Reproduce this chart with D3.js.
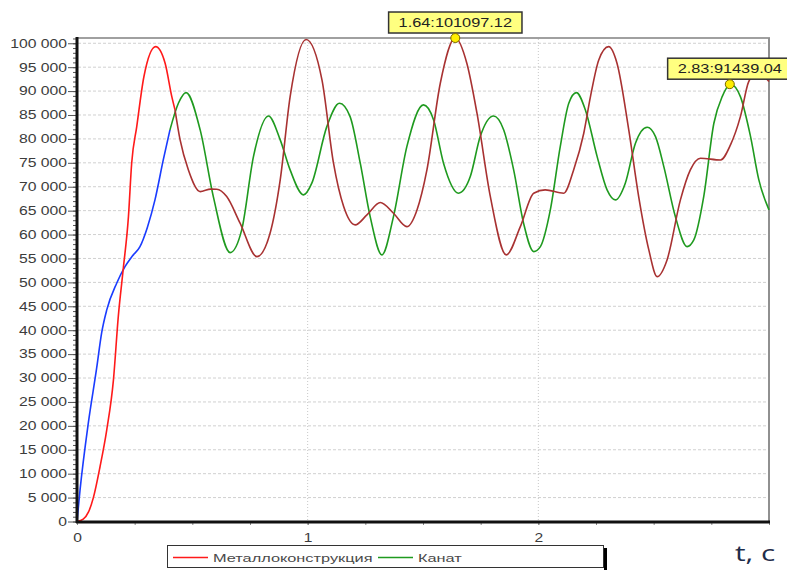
<!DOCTYPE html>
<html>
<head>
<meta charset="utf-8">
<script src="https://cdn.jsdelivr.net/npm/d3@7"></script>
<style>
  body { margin: 0; background: #fff; }
  svg text { font-family: "Liberation Sans", Arial, sans-serif; }
</style>
</head>
<body>
<svg id="chart" width="787" height="570"></svg>
<script>
// t, seconds
const metalT = [0, 0.027, 0.05, 0.071, 0.1, 0.129, 0.158, 0.179, 0.2, 0.223, 0.237, 0.259, 0.29, 0.341,
  0.382, 0.411, 0.425, 0.447, 0.483, 0.534, 0.58, 0.606, 0.649, 0.707, 0.78, 0.837, 0.881, 0.924, 0.993,
  1.062, 1.112, 1.156, 1.206, 1.257, 1.315, 1.372, 1.43, 1.474, 1.517, 1.575, 1.64, 1.69, 1.734, 1.792,
  1.861, 1.922, 1.98, 2.03, 2.11, 2.153, 2.197, 2.226, 2.262, 2.305, 2.341, 2.392, 2.435, 2.479, 2.515,
  2.558, 2.616, 2.659, 2.703, 2.79, 2.833, 2.876, 2.912, 2.95, 3.0]
const metalV = [0, 500, 2000, 5000, 11500, 19170, 29620, 42850, 52600, 63760, 74900, 82570, 93000, 99290,
  95820, 88840, 86060, 79790, 73520, 68980, 69500, 69480, 67940, 62380, 55390, 60280, 71430, 88840, 100800,
  92330, 74920, 65850, 62020, 64110, 66690, 64460, 61660, 65150, 73520, 91640, 101097, 95820, 85370, 67940,
  55750, 61660, 68650, 69340, 68650, 73520, 81190, 88840, 96510, 99290, 95820, 81880, 67940, 56800, 51210,
  54700, 67250, 73520, 75960, 75600, 78740, 84660, 91970, 94000, 92000]

const kanatT = [0, 0.013, 0.049, 0.085, 0.107, 0.129, 0.172, 0.208, 0.24, 0.273, 0.305, 0.338, 0.374, 0.403,
  0.44, 0.473, 0.534, 0.591, 0.664, 0.714, 0.765, 0.83, 0.881, 0.924, 0.982, 1.018, 1.083, 1.138, 1.184,
  1.228, 1.271, 1.322, 1.372, 1.43, 1.502, 1.546, 1.589, 1.654, 1.705, 1.748, 1.806, 1.85, 1.893, 1.936,
  1.98, 2.009, 2.052, 2.095, 2.132, 2.165, 2.204, 2.255, 2.298, 2.334, 2.377, 2.421, 2.472, 2.508, 2.544,
  2.594, 2.645, 2.674, 2.717, 2.761, 2.797, 2.833, 2.876, 2.92, 2.956, 3.0]
const kanatV = [0, 6500, 20570, 32000, 39500, 44250, 49830, 53300, 55500, 57480, 61500, 67250, 75600, 81880,
  87500, 89680, 81880, 67940, 56230, 60970, 76300, 84800, 79790, 73520, 68290, 70740, 82570, 87460, 84660,
  74920, 63760, 55750, 63760, 78380, 87110, 83970, 74920, 68650, 72120, 80480, 84800, 81880, 73520, 62380,
  56440, 57480, 65150, 78380, 87460, 89680, 86060, 76300, 69340, 67250, 70740, 79100, 82440, 80480, 74210,
  63760, 57480, 58880, 67940, 83270, 88840, 91439.04, 88840, 80480, 71430, 65150]

// time where each curve changes colour
const metalSwitch = 0.425
const kanatSwitch = 0.403

const seriesNames = ["Металлоконструкция", "Канат"]
const yTicks = d3.range(0, 100001, 5000)
const xTicks = [0, 1, 2]
const marks = [{t: 1.64, v: 101097.12}, {t: 2.83, v: 91439.04}]

const svg = d3.select("#chart")

const x = d3.scaleLinear().domain([0, 3]).range([77, 769])
const y = d3.scaleLinear().domain([0, 101100]).range([521.5, 38])

const fmt = d3.formatLocale({decimal: ".", thousands: " ", grouping: [3], currency: ["", ""]}).format(",d")

// grid
svg.append("g")
  .selectAll("line")
  .data(yTicks.filter(d => d > 0))
  .join("line")
    .attr("x1", 78).attr("x2", 768)
    .attr("y1", d => y(d)).attr("y2", d => y(d))
    .attr("stroke", "#d0d0d0")
    .attr("stroke-dasharray", "3,2")
svg.append("g")
  .selectAll("line")
  .data([1, 2])
  .join("line")
    .attr("x1", d => x(d)).attr("x2", d => x(d))
    .attr("y1", 39).attr("y2", 521)
    .attr("stroke", "#c8c8c8")
    .attr("stroke-dasharray", "1,2")

// frame top/right
svg.append("line").attr("x1", 77).attr("x2", 770).attr("y1", 38).attr("y2", 38)
  .attr("stroke", "#a0a0a0").attr("stroke-width", 2)
svg.append("line").attr("x1", 769).attr("x2", 769).attr("y1", 38).attr("y2", 522)
  .attr("stroke", "#909090").attr("stroke-width", 2)

// lines
const line = d3.line()
  .x(d => x(d[0]))
  .y(d => y(d[1]))
  .curve(d3.curveMonotoneX)

function drawSeries(ts, vs, sw, c1, c2) {
  const pts = ts.map((t, i) => [t, vs[i]])
  const k = ts.indexOf(sw)
  svg.append("path").datum(pts.slice(0, k + 1))
    .attr("d", line).attr("fill", "none").attr("stroke", c1).attr("stroke-width", 1.6)
  svg.append("path").datum(pts.slice(k))
    .attr("d", line).attr("fill", "none").attr("stroke", c2).attr("stroke-width", 1.6)
}
drawSeries(kanatT, kanatV, kanatSwitch, "#1a3cff", "#1f9a1f")
drawSeries(metalT, metalV, metalSwitch, "#ff1a1a", "#a83232")

// y axis
const yMinor = svg.append("g").attr("transform", "translate(77,0)")
  .call(d3.axisLeft(y).tickValues(d3.range(0, 101001, 1000)).tickSize(4).tickFormat(""))
yMinor.select(".domain").remove()
yMinor.selectAll("line").attr("stroke", "#555")

const yAxis = svg.append("g").attr("transform", "translate(77,0)")
  .call(d3.axisLeft(y).tickValues(yTicks).tickSize(9).tickFormat(fmt))
yAxis.select(".domain").remove()
yAxis.selectAll("line").attr("stroke", "#555")
yAxis.selectAll("text")
  .attr("x", -7.6)
  .attr("transform", "scale(1.31,1)")
  .attr("fill", "#3c3c3c")
  .style("font-size", "12px")

// x axis
const xMinor = svg.append("g").attr("transform", "translate(0,522)")
  .call(d3.axisBottom(x).tickValues(d3.range(0, 3.01, 0.25)).tickSize(3).tickFormat(""))
xMinor.select(".domain").remove()
xMinor.selectAll("line").attr("stroke", "#888")

const xAxis = svg.append("g").attr("transform", "translate(0,522)")
  .call(d3.axisBottom(x).tickValues(xTicks).tickSize(3).tickPadding(8).tickFormat(d3.format("d")))
xAxis.select(".domain").remove()
xAxis.selectAll("line").attr("stroke", "#888")
xAxis.selectAll("text")
  .attr("transform", "scale(1.3,1)")
  .attr("fill", "#3c3c3c")
  .style("font-size", "12px")

// main axis lines
svg.append("line").attr("x1", 77).attr("x2", 77).attr("y1", 37).attr("y2", 523)
  .attr("stroke", "#111").attr("stroke-width", 3)
svg.append("line").attr("x1", 76).attr("x2", 770).attr("y1", 522).attr("y2", 522)
  .attr("stroke", "#111").attr("stroke-width", 3)

// value marks
const markG = svg.append("g")
  .selectAll("g")
  .data(marks)
  .join("g")
    .attr("transform", d => `translate(${x(d.t)},${y(d.v)})`)
markG.append("rect")
  .attr("y", -26).attr("height", 21)
  .attr("fill", "#ffff80").attr("stroke", "#333").attr("stroke-width", 1.5)
markG.append("text")
  .attr("transform", "translate(0,-11) scale(1.36,1)")
  .attr("text-anchor", "middle")
  .attr("fill", "#222")
  .style("font-size", "12px")
  .text(d => `${d.t}:${d.v}`)
markG.each(function() {
  const g = d3.select(this)
  const w = g.select("text").node().getComputedTextLength() * 1.36 + 20
  g.select("rect").attr("x", -w / 2).attr("width", w)
})
markG.append("circle")
  .attr("r", 4.5)
  .attr("fill", "#ffee00").attr("stroke", "#776600").attr("stroke-width", 1)

// legend
const legend = svg.append("g")
legend.append("rect").attr("x", 604).attr("y", 548).attr("width", 3).attr("height", 22).attr("fill", "#000")
legend.append("rect").attr("x", 167.5).attr("y", 545.5).attr("width", 436).attr("height", 22)
  .attr("fill", "#fff").attr("stroke", "#333")
const legX = [173, 378]
const legColors = ["#ff1a1a", "#1f9a1f"]
seriesNames.forEach((name, i) => {
  legend.append("line")
    .attr("x1", legX[i]).attr("x2", legX[i] + 35)
    .attr("y1", 557.5).attr("y2", 557.5)
    .attr("stroke", legColors[i]).attr("stroke-width", 1.5)
  legend.append("text")
    .attr("transform", `translate(${legX[i] + 40},561.5) scale(1.42,1)`)
    .attr("fill", "#4a4a4a")
    .style("font-size", "11.5px")
    .text(name)
})

// axis title
svg.append("text")
  .attr("transform", "translate(735,561) scale(1.35,1)")
  .attr("fill", "#1f2d4a")
  .style("font-family", "'Open Sans', sans-serif")
  .style("font-size", "22px")
  .text("t, c")
</script>
</body>
</html>
